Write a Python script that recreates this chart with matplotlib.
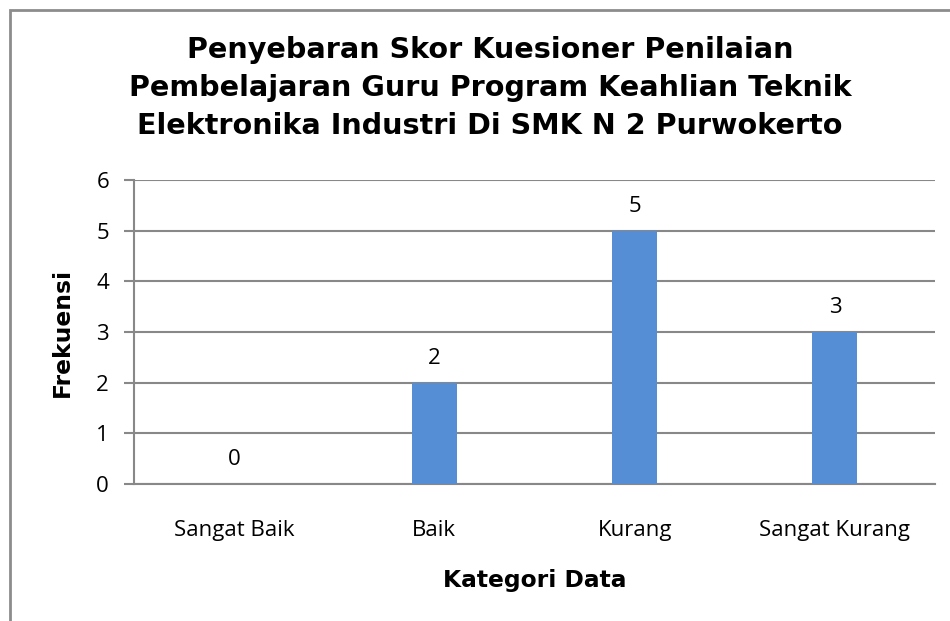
import matplotlib.pyplot as plt
from matplotlib.patches import Rectangle

# data
categories = ["Sangat Baik", "Baik", "Kurang", "Sangat Kurang"]
frekuensi = [0, 2, 5, 3]

title = ("Penyebaran Skor Kuesioner Penilaian\n"
         "Pembelajaran Guru Program Keahlian Teknik\n"
         "Elektronika Industri Di SMK N 2 Purwokerto")

bar_color = "#558ED5"
grid_color = "#888888"
label_font = "Open Sans"

fig = plt.figure(figsize=(9.5, 6.21), dpi=100)
ax = fig.add_axes([134 / 950, 1 - 484 / 621, (935 - 134) / 950, (484 - 180) / 621])

# chart area border (cut off on the right and bottom like the source)
fig.patches.append(Rectangle((10 / 950, -0.05), 1.0, 1 - 10 / 621 + 0.05,
                             transform=fig.transFigure, fill=False,
                             edgecolor="#8c8c8c", linewidth=2.0))

x = range(len(categories))
bars = ax.bar(x, frekuensi, width=0.225, color=bar_color, zorder=3)

for xi, v in zip(x, frekuensi):
    ax.text(xi, v + 0.27, str(v), ha="center", va="bottom",
            fontsize=16, family=label_font)

ax.set_xlim(-0.5, len(categories) - 0.5)
ax.set_ylim(0, 6)
ax.set_yticks(range(7))
ax.yaxis.grid(True, color=grid_color, linewidth=1.5, zorder=0)
ax.set_axisbelow(True)

for side in ["top", "right"]:
    ax.spines[side].set_visible(False)
ax.spines["left"].set_color(grid_color)
ax.spines["left"].set_linewidth(1.5)
ax.spines["bottom"].set_color(grid_color)
ax.spines["bottom"].set_linewidth(1.5)

ax.tick_params(axis="y", length=7, width=1.5, color=grid_color, pad=11)
ax.tick_params(axis="x", length=0, pad=26)
ax.set_xticks(list(x))
ax.set_xticklabels(categories)
for lab in ax.get_xticklabels() + ax.get_yticklabels():
    lab.set_family(label_font)
    lab.set_fontsize(16)

ax.set_xlabel("Kategori Data", fontsize=16.8, fontweight="bold",
              family="DejaVu Sans", labelpad=20)
ax.set_ylabel("Frekuensi", fontsize=16.8, fontweight="bold",
              family="DejaVu Sans", labelpad=16)

fig.text(490 / 950, 1 - 88 / 621, title, ha="center", va="center",
         fontsize=20.6, fontweight="bold", family="DejaVu Sans",
         linespacing=1.46)

fig.savefig("out.png", dpi=100)
